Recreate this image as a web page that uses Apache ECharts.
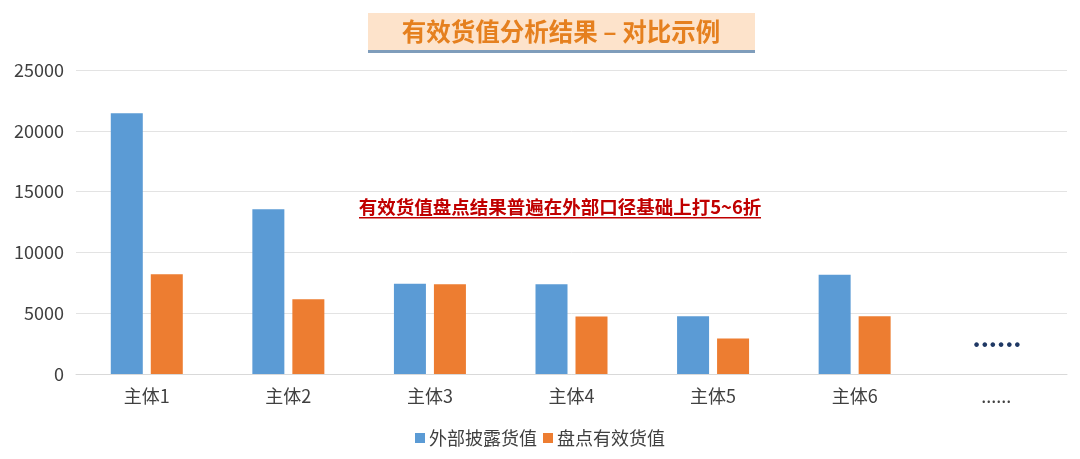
<!DOCTYPE html>
<html>
<head>
<meta charset="utf-8">
<script src="https://cdn.jsdelivr.net/npm/echarts@6/dist/echarts.min.js"></script>
<style>
html,body{margin:0;padding:0;background:#fff;}
#chart{width:1080px;height:459px;}
</style>
</head>
<body>
<div id="chart"></div>
<script>
var categories = ['主体1', '主体2', '主体3', '主体4', '主体5', '主体6', '......'];
var externalValues = [21450, 13540, 7430, 7380, 4750, 8170, null];
var effectiveValues = [8210, 6140, 7390, 4730, 2910, 4750, null];
var seriesNames = ['外部披露货值', '盘点有效货值'];
var titleText = '有效货值分析结果 – 对比示例';
var noteText = '有效货值盘点结果普遍在外部口径基础上打5~6折';

var font = '"Noto Sans CJK SC", "Microsoft YaHei", sans-serif';
var chart = echarts.init(document.getElementById('chart'));
chart.setOption({
  backgroundColor: '#ffffff',
  animation: false,
  grid: { left: 76, right: 13, top: 70, bottom: 85, containLabel: false },
  legend: {
    data: seriesNames,
    bottom: 7,
    left: 'center',
    itemWidth: 10,
    itemHeight: 10,
    itemGap: 6,
    icon: 'rect',
    textStyle: { fontFamily: font, fontSize: 18, color: '#404040', padding: [0,0,0,-1] }
  },
  xAxis: {
    type: 'category',
    data: categories,
    axisLine: { lineStyle: { color: '#D9D9D9', width: 1 } },
    axisTick: { show: false },
    axisLabel: { fontFamily: font, fontSize: 18, color: '#404040', margin: 13 }
  },
  yAxis: {
    type: 'value',
    min: 0, max: 25000, interval: 5000,
    axisLine: { show: false },
    axisTick: { show: false },
    splitLine: { lineStyle: { color: '#E3E3E3', width: 1 } },
    axisLabel: { fontFamily: font, fontSize: 18, color: '#404040', margin: 12,
                 formatter: function (v) { return String(v); } }
  },
  series: [
    { name: seriesNames[0], type: 'bar', data: externalValues, barWidth: 32, barGap: '25%',
      itemStyle: { color: '#5B9BD5' } },
    { name: seriesNames[1], type: 'bar', data: effectiveValues, barWidth: 32,
      itemStyle: { color: '#ED7D31' } }
  ],
  graphic: [
    { type: 'rect', shape: { x: 368, y: 13, width: 387, height: 38 }, style: { fill: '#FDE3CB' }, z: 10 },
    { type: 'rect', shape: { x: 368, y: 50, width: 387, height: 3 }, style: { fill: '#7F9DBB' }, z: 11 },
    { type: 'text', x: 561, y: 32, z: 12,
      style: { text: titleText, fontFamily: font, fontSize: 24.5, fontWeight: 'bold', fill: '#E5801F',
               align: 'center', verticalAlign: 'middle' } },
    { type: 'text', x: 560, y: 207, z: 12,
      style: { text: noteText, fontFamily: font, fontSize: 18.5, fontWeight: 'bold', fill: '#C00000',
               align: 'center', verticalAlign: 'middle' } },
    { type: 'rect', shape: { x: 359, y: 217, width: 402, height: 1.5 }, style: { fill: '#C00000' }, z: 12 },
    { type: 'text', x: 997, y: 337, z: 12,
      style: { text: '......', fontFamily: font, fontSize: 25, fontWeight: 'bold', fill: '#1F3864',
               align: 'center', verticalAlign: 'middle' } }
  ]
});
</script>
</body>
</html>
